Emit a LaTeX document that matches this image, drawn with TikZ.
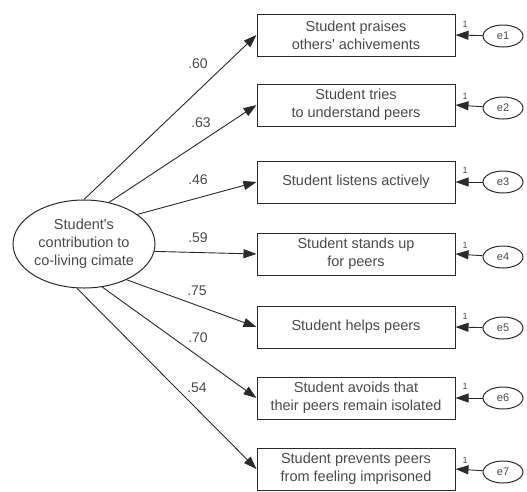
\documentclass[tikz,border=0pt]{standalone}
\usepackage{fontspec}
\setmainfont{Liberation Sans}
\usepackage{tikz}
\usetikzlibrary{arrows.meta,shapes.geometric}

\definecolor{inkgray}{HTML}{2A2A2A}
\definecolor{textgray}{HTML}{4A4A4A}

\begin{document}
\begin{tikzpicture}[x=1pt, y=-1pt,
    every node/.style={text=textgray},
    item/.style={rectangle, draw=inkgray, line width=1pt, minimum width=198pt,
      minimum height=42pt, align=center, font=\fontsize{14.5}{18}\selectfont, inner sep=1pt},
    latent/.style={ellipse, draw=inkgray, line width=1pt, minimum width=142pt,
      minimum height=88pt, align=center, font=\fontsize{14.5}{18}\selectfont, inner sep=0pt},
    err/.style={ellipse, draw=inkgray, line width=1pt, minimum width=40pt,
      minimum height=22pt, font=\fontsize{11}{13}\selectfont, inner sep=0pt},
    load/.style={font=\fontsize{14}{16}\selectfont},
    one/.style={font=\fontsize{9}{10}\selectfont},
    path/.style={draw=inkgray, line width=0.9pt, -{Triangle[length=13pt,width=9pt]}}]
    \useasboundingbox (0,0) rectangle (527,491);

    %% the latent variable
    \node (lat) [latent] at (84,244) {Student\textquotesingle s\\contribution to\\co-living cimate};

    %% the observed items
    \node (s1) [item] at (356,35)  {Student praises\\others\textquotesingle{} achivements};
    \node (s2) [item] at (356,105) {Student tries\\to understand peers};
    \node (s3) [item] at (356,182) {Student listens actively};
    \node (s4) [item] at (356,254) {Student stands up\\for peers};
    \node (s5) [item] at (356,327) {Student helps peers};
    \node (s6) [item] at (356,398) {Student avoids that\\their peers remain isolated};
    \node (s7) [item] at (356,469) {Student prevents peers\\from feeling imprisoned};

    %% the error terms
    \node (e1) [err] at (503,36)  {e1};
    \node (e2) [err] at (503,108) {e2};
    \node (e3) [err] at (503,182) {e3};
    \node (e4) [err] at (503,257) {e4};
    \node (e5) [err] at (503,328) {e5};
    \node (e6) [err] at (503,398) {e6};
    \node (e7) [err] at (503,472) {e7};

    \draw [path] (lat.90)  -- (s1.west);
    \draw [path] (lat.59)  -- (s2.west);
    \draw [path] (lat.29)  -- (s3.west);
    \draw [path] (lat.-6)  -- (s4.west);
    \draw [path] (lat.-40) -- (s5.west);
    \draw [path] (lat.-67) -- (s6.west);
    \draw [path] (lat.-99) -- (s7.west);

    \draw [path] (e1) -- (s1.east);
    \draw [path] (e2) -- (s2.east);
    \draw [path] (e3) -- (s3.east);
    \draw [path] (e4) -- (s4.east);
    \draw [path] (e5) -- (s5.east);
    \draw [path] (e6) -- (s6.east);
    \draw [path] (e7) -- (s7.east);

    %% loadings
    \node (l1) [load] at (198,64)  {.60};
    \node (l2) [load] at (201,123) {.63};
    \node (l3) [load] at (198,180) {.46};
    \node (l4) [load] at (198,238) {.59};
    \node (l5) [load] at (197,291) {.75};
    \node (l6) [load] at (198,338) {.70};
    \node (l7) [load] at (197,388) {.54};

    %% fixed error paths
    \node (f1) [one] at (465,24)  {1};
    \node (f2) [one] at (465,96)  {1};
    \node (f3) [one] at (465,170) {1};
    \node (f4) [one] at (465,245) {1};
    \node (f5) [one] at (465,316) {1};
    \node (f6) [one] at (465,386) {1};
    \node (f7) [one] at (465,460) {1};
\end{tikzpicture}
\end{document}
